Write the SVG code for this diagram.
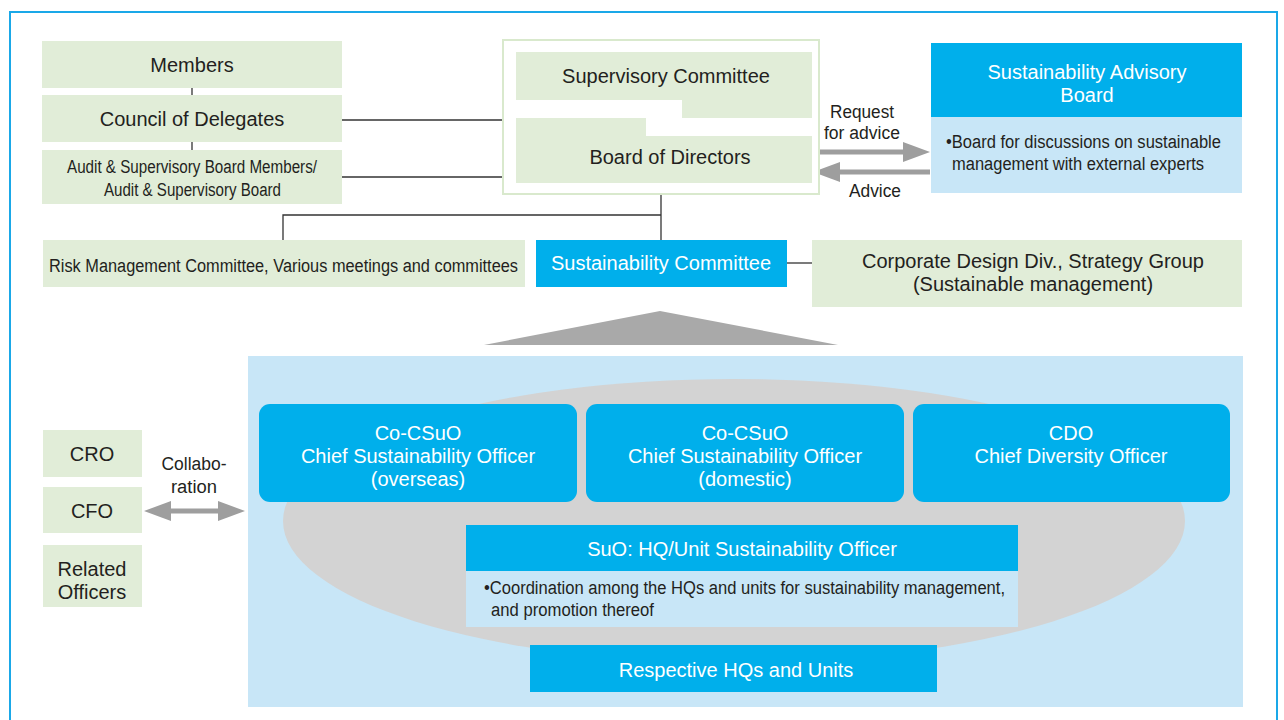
<svg xmlns="http://www.w3.org/2000/svg" width="1284" height="720" viewBox="0 0 1284 720">
<style>
text{font-family:"Liberation Sans",Arial,sans-serif;}
.g{fill:#e1edd8;}
.c{fill:#00afeb;}
.lb{fill:#c8e6f7;}
.d{fill:#231f20;font-size:20px;text-anchor:middle;}
.w{fill:#ffffff;font-size:20px;text-anchor:middle;}
.s{fill:#231f20;font-size:18px;}
.sm{fill:#231f20;font-size:18px;text-anchor:middle;}
.ln{stroke:#333333;stroke-width:1.3;fill:none;}
.ar{stroke:#9e9e9e;stroke-width:5;fill:none;}
</style>
<defs>
<marker id="ah" viewBox="0 0 27 20" markerWidth="27" markerHeight="20" refX="2" refY="10" markerUnits="userSpaceOnUse" orient="auto-start-reverse">
<path d="M0,0 L27,10 L0,20 z" fill="#9e9e9e"/>
</marker>
</defs>
<rect x="0" y="0" width="1284" height="720" fill="#ffffff"/>
<rect x="10" y="12" width="1267" height="740" fill="none" stroke="#1aa8e8" stroke-width="2"/>

<g id="connectors">
<line class="ln" x1="192" y1="88" x2="192" y2="95"/>
<line class="ln" x1="192" y1="142" x2="192" y2="150"/>
<line class="ln" x1="342" y1="120" x2="503" y2="120"/>
<line class="ln" x1="342" y1="177" x2="503" y2="177"/>
<line class="ln" x1="661" y1="183" x2="661" y2="240"/>
<polyline class="ln" points="283,240 283,215 661,215"/>
<line class="ln" x1="787" y1="263" x2="812" y2="263"/>
<line x1="733" y1="618" x2="733" y2="645" stroke="#666666" stroke-width="1.5"/>
<line class="ar" x1="812" y1="152" x2="905" y2="152" marker-end="url(#ah)"/>
<line class="ar" x1="930" y1="172" x2="838" y2="172" marker-end="url(#ah)"/>
<line class="ar" x1="169" y1="511" x2="220" y2="511" marker-start="url(#ah)" marker-end="url(#ah)"/>
<text class="sm" x="862" y="118" textLength="64" lengthAdjust="spacingAndGlyphs">Request</text>
<text class="sm" x="862" y="139" textLength="76" lengthAdjust="spacingAndGlyphs">for advice</text>
<text class="sm" x="875" y="197" textLength="52" lengthAdjust="spacingAndGlyphs">Advice</text>
<text class="sm" x="194" y="470" textLength="65" lengthAdjust="spacingAndGlyphs">Collabo-</text>
<text class="sm" x="194" y="493" textLength="46" lengthAdjust="spacingAndGlyphs">ration</text>
</g>

<g id="members">
<rect class="g" x="42" y="41" width="300" height="47"/>
<text class="d" x="192" y="72">Members</text>
</g>
<g id="council">
<rect class="g" x="42" y="95" width="300" height="47"/>
<text class="d" x="192" y="126">Council of Delegates</text>
</g>
<g id="audit">
<rect class="g" x="42" y="150" width="300" height="54"/>
<text class="s" x="67" y="173" textLength="250" lengthAdjust="spacingAndGlyphs">Audit &amp; Supervisory Board Members/</text>
<text class="s" x="104" y="196" textLength="177" lengthAdjust="spacingAndGlyphs">Audit &amp; Supervisory Board</text>
</g>

<g id="board-frame">
<rect x="503" y="40" width="316" height="154" fill="#ffffff" stroke="#d9e9cd" stroke-width="2"/>
</g>
<g id="supervisory">
<polygon class="g" points="516,52 812,52 812,118 682,118 682,100 516,100"/>
<text class="d" x="666" y="83">Supervisory Committee</text>
</g>
<g id="board">
<polygon class="g" points="516,118 646,118 646,136 812,136 812,183 516,183"/>
<text class="d" x="670" y="164">Board of Directors</text>
</g>

<g id="advisory">
<rect class="c" x="931" y="43" width="311" height="74"/>
<rect class="lb" x="931" y="117" width="311" height="76"/>
<text class="w" x="1087" y="79">Sustainability Advisory</text>
<text class="w" x="1087" y="102">Board</text>
<text class="s" x="946" y="148" textLength="275" lengthAdjust="spacingAndGlyphs">•Board for discussions on sustainable</text>
<text class="s" x="952" y="170" textLength="252" lengthAdjust="spacingAndGlyphs">management with external experts</text>
</g>

<g id="risk">
<rect class="g" x="43" y="240" width="482" height="47"/>
<text class="s" x="49" y="272" textLength="469" lengthAdjust="spacingAndGlyphs">Risk Management Committee, Various meetings and committees</text>
</g>
<g id="sust-committee">
<rect class="c" x="536" y="240" width="251" height="47"/>
<text class="w" x="661" y="270">Sustainability Committee</text>
</g>
<g id="corporate">
<rect class="g" x="812" y="240" width="430" height="67"/>
<text class="d" x="1033" y="268">Corporate Design Div., Strategy Group</text>
<text class="d" x="1033" y="291">(Sustainable management)</text>
</g>

<g id="expansion">
<polygon points="484,345 838,345 660,311" fill="#a9a9a9"/>
<rect class="lb" x="248" y="356" width="995" height="351"/>
<ellipse cx="734" cy="521" rx="451" ry="142" fill="#d3d3d3"/>
</g>

<g id="co-csuo-overseas">
<rect class="c" x="259" y="404" width="318" height="98" rx="11"/>
<text class="w" x="418" y="440">Co-CSuO</text>
<text class="w" x="418" y="463">Chief Sustainability Officer</text>
<text class="w" x="418" y="486">(overseas)</text>
</g>
<g id="co-csuo-domestic">
<rect class="c" x="586" y="404" width="318" height="98" rx="11"/>
<text class="w" x="745" y="440">Co-CSuO</text>
<text class="w" x="745" y="463">Chief Sustainability Officer</text>
<text class="w" x="745" y="486">(domestic)</text>
</g>
<g id="cdo">
<rect class="c" x="913" y="404" width="317" height="98" rx="11"/>
<text class="w" x="1071" y="440">CDO</text>
<text class="w" x="1071" y="463">Chief Diversity Officer</text>
</g>

<g id="suo">
<rect class="c" x="466" y="525" width="552" height="46"/>
<rect fill="#c8e6f7" x="466" y="571" width="552" height="56"/>
<text class="w" x="742" y="556">SuO: HQ/Unit Sustainability Officer</text>
<text class="s" x="484" y="594" textLength="521" lengthAdjust="spacingAndGlyphs">•Coordination among the HQs and units for sustainability management,</text>
<text class="s" x="491" y="616" textLength="163" lengthAdjust="spacingAndGlyphs">and promotion thereof</text>
</g>
<g id="hqs">
<rect class="c" x="530" y="645" width="407" height="47"/>
<text class="w" x="736" y="677">Respective HQs and Units</text>
</g>

<g id="cro">
<rect class="g" x="43" y="430" width="99" height="47"/>
<text class="d" x="92" y="461">CRO</text>
</g>
<g id="cfo">
<rect class="g" x="43" y="487" width="99" height="46"/>
<text class="d" x="92" y="518">CFO</text>
</g>
<g id="related">
<rect class="g" x="43" y="545" width="99" height="62"/>
<text class="d" x="92" y="576">Related</text>
<text class="d" x="92" y="599">Officers</text>
</g>
</svg>
